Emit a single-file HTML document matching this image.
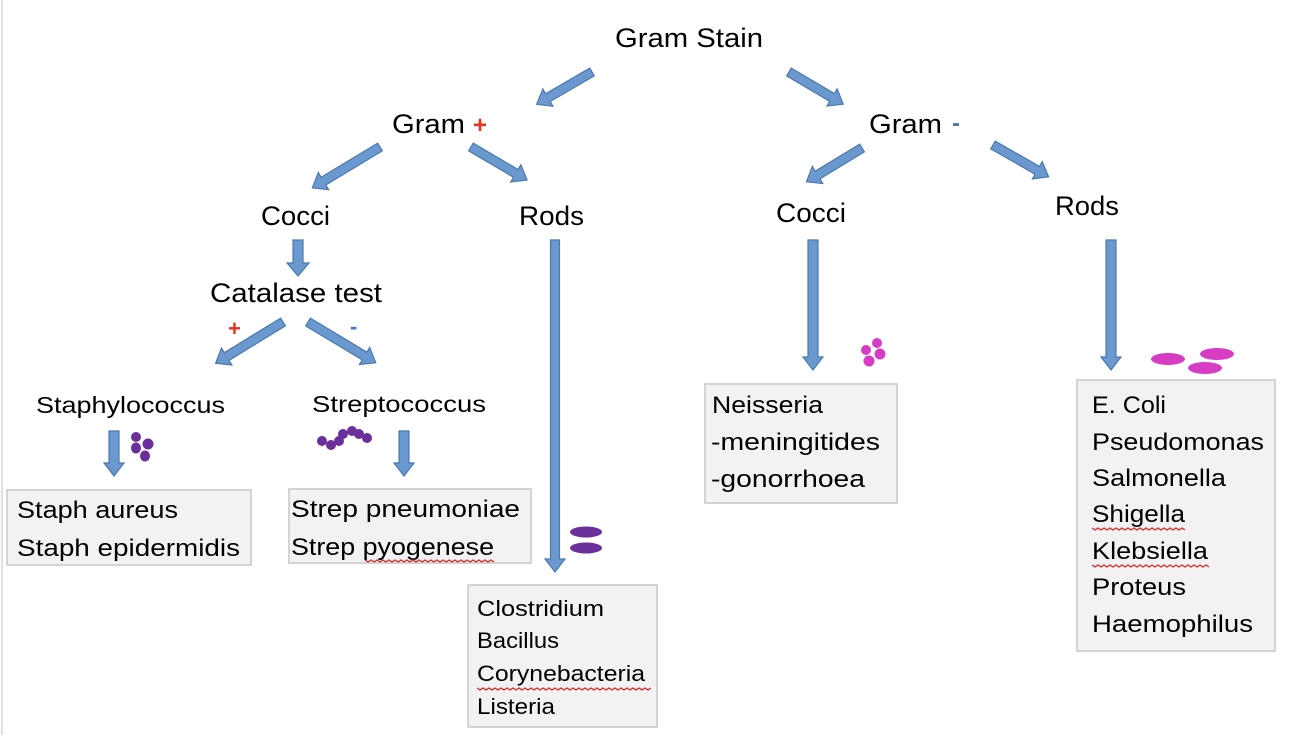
<!DOCTYPE html>
<html><head><meta charset="utf-8"><style>
html,body{margin:0;padding:0;background:#fff;}
svg{display:block;font-family:"Liberation Sans",sans-serif;}
.a{fill:#6a98cf;stroke:#4a78b0;stroke-width:1.2;}
.b{fill:#f2f2f2;stroke:#d4d4d4;stroke-width:2;}
.w{fill:none;stroke:#e02020;stroke-width:1.2;}
</style></head><body>
<svg width="1313" height="735" viewBox="0 0 1313 735" xmlns="http://www.w3.org/2000/svg">
<line x1="2" y1="0" x2="2" y2="735" stroke="#e0e0e0" stroke-width="2"/>

<g class="a">
<polygon transform="translate(592,72) rotate(149.8)" points="0,-4.5 51,-4.5 51,-10 64,0 51,10 51,4.5 0,4.5"/>
<polygon transform="translate(789,72) rotate(30.6)" points="0,-4.5 50,-4.5 50,-10 63,0 50,10 50,4.5 0,4.5"/>
<polygon transform="translate(380,147) rotate(148.9)" points="0,-4.5 66,-4.5 66,-10 79,0 66,10 66,4.5 0,4.5"/>
<polygon transform="translate(471,147) rotate(30.5)" points="0,-4.5 52,-4.5 52,-10 65,0 52,10 52,4.5 0,4.5"/>
<polygon transform="translate(298,240) rotate(90)" points="0,-5 23,-5 23,-11 36,0 23,11 23,5 0,5"/>
<polygon transform="translate(283,322) rotate(148.5)" points="0,-4.5 66,-4.5 66,-10 79,0 66,10 66,4.5 0,4.5"/>
<polygon transform="translate(308,322) rotate(31)" points="0,-4.5 66,-4.5 66,-10 79,0 66,10 66,4.5 0,4.5"/>
<polygon transform="translate(555,240) rotate(90)" points="0,-4.5 319,-4.5 319,-10 332,0 319,10 319,4.5 0,4.5"/>
<polygon transform="translate(862,148) rotate(148.7)" points="0,-4.5 52,-4.5 52,-10 65,0 52,10 52,4.5 0,4.5"/>
<polygon transform="translate(993,145) rotate(29.7)" points="0,-4.5 51,-4.5 51,-10 64,0 51,10 51,4.5 0,4.5"/>
<polygon transform="translate(813,240) rotate(90)" points="0,-5 117,-5 117,-10 130,0 117,10 117,5 0,5"/>
<polygon transform="translate(1111,240) rotate(90)" points="0,-5 117,-5 117,-10 130,0 117,10 117,5 0,5"/>
<polygon transform="translate(114,431) rotate(90)" points="0,-5 32,-5 32,-10 45,0 32,10 32,5 0,5"/>
<polygon transform="translate(404,431) rotate(90)" points="0,-5 32,-5 32,-10 45,0 32,10 32,5 0,5"/>
</g>

<rect class="b" x="7" y="490" width="244" height="75"/>
<rect class="b" x="289" y="489" width="242" height="74"/>
<rect class="b" x="468" y="585" width="189" height="142"/>
<rect class="b" x="705" y="384" width="192" height="119"/>
<rect class="b" x="1077" y="380" width="198" height="271"/>

<g fill="#6a2f9a">
<ellipse cx="136" cy="437" rx="5" ry="5"/><ellipse cx="148" cy="444" rx="5.5" ry="5.5"/>
<ellipse cx="136" cy="448" rx="5" ry="5.5"/><ellipse cx="145" cy="456" rx="5" ry="5.5"/>
<circle cx="322" cy="441" r="5"/><circle cx="331" cy="445" r="5"/><circle cx="339" cy="441" r="5"/>
<circle cx="343" cy="434" r="5"/><circle cx="352" cy="431" r="5"/><circle cx="359" cy="434" r="5"/><circle cx="367" cy="438" r="5"/>
<ellipse cx="586" cy="532" rx="16" ry="5.5"/><ellipse cx="586" cy="548" rx="16" ry="5.5"/>
</g>
<g fill="#d63cc4">
<circle cx="866" cy="350" r="5"/><circle cx="877" cy="343" r="5"/><circle cx="880" cy="354" r="5.5"/><circle cx="869" cy="361" r="5.5"/>
<ellipse cx="1168" cy="359" rx="17" ry="6"/><ellipse cx="1217" cy="354" rx="17" ry="6"/><ellipse cx="1205" cy="368" rx="17" ry="6"/>
</g>

<g fill="#000" font-size="27">
<text x="615" y="47" textLength="148" lengthAdjust="spacingAndGlyphs">Gram Stain</text>
<text x="392" y="133" textLength="73" lengthAdjust="spacingAndGlyphs">Gram</text>
<text x="869" y="133" textLength="73" lengthAdjust="spacingAndGlyphs">Gram</text>
<text x="261" y="225" textLength="69" lengthAdjust="spacingAndGlyphs">Cocci</text>
<text x="519" y="225" textLength="65" lengthAdjust="spacingAndGlyphs">Rods</text>
<text x="776" y="222" textLength="70" lengthAdjust="spacingAndGlyphs">Cocci</text>
<text x="1055" y="215" textLength="64" lengthAdjust="spacingAndGlyphs">Rods</text>
<text x="210" y="302" textLength="172" lengthAdjust="spacingAndGlyphs">Catalase test</text>
</g>
<g font-weight="bold" font-size="24">
<text x="473" y="133" fill="#e8321e">+</text>
<text x="952" y="131" fill="#4a78b8">-</text>
<text x="228" y="336" fill="#e8321e" font-size="22">+</text>
<text x="350" y="334" fill="#4a78b8" font-size="22">-</text>
</g>
<g fill="#000" font-size="23">
<text x="36" y="413" textLength="189" lengthAdjust="spacingAndGlyphs">Staphylococcus</text>
<text x="312" y="412" textLength="174" lengthAdjust="spacingAndGlyphs">Streptococcus</text>
<text x="17" y="518" textLength="161" lengthAdjust="spacingAndGlyphs" font-size="24">Staph aureus</text>
<text x="17" y="556" textLength="223" lengthAdjust="spacingAndGlyphs" font-size="24">Staph epidermidis</text>
<text x="291" y="517" textLength="229" lengthAdjust="spacingAndGlyphs" font-size="24">Strep pneumoniae</text>
<text x="291" y="555" textLength="203" lengthAdjust="spacingAndGlyphs" font-size="24">Strep pyogenese</text>
<text x="477" y="616" textLength="127" lengthAdjust="spacingAndGlyphs" font-size="22">Clostridium</text>
<text x="477" y="648" textLength="82" lengthAdjust="spacingAndGlyphs" font-size="22">Bacillus</text>
<text x="477" y="681" textLength="168" lengthAdjust="spacingAndGlyphs" font-size="22">Corynebacteria</text>
<text x="477" y="714" textLength="78" lengthAdjust="spacingAndGlyphs" font-size="22">Listeria</text>
<text x="712" y="413" textLength="111" lengthAdjust="spacingAndGlyphs" font-size="24">Neisseria</text>
<text x="711" y="450" textLength="169" lengthAdjust="spacingAndGlyphs" font-size="24">-meningitides</text>
<text x="711" y="487" textLength="154" lengthAdjust="spacingAndGlyphs" font-size="24">-gonorrhoea</text>
<text x="1092" y="413" textLength="74" lengthAdjust="spacingAndGlyphs" font-size="24">E. Coli</text>
<text x="1092" y="450" textLength="172" lengthAdjust="spacingAndGlyphs" font-size="24">Pseudomonas</text>
<text x="1092" y="486" textLength="134" lengthAdjust="spacingAndGlyphs" font-size="24">Salmonella</text>
<text x="1092" y="522" textLength="93" lengthAdjust="spacingAndGlyphs" font-size="24">Shigella</text>
<text x="1092" y="559" textLength="116" lengthAdjust="spacingAndGlyphs" font-size="24">Klebsiella</text>
<text x="1092" y="595" textLength="94" lengthAdjust="spacingAndGlyphs" font-size="24">Proteus</text>
<text x="1092" y="632" textLength="161" lengthAdjust="spacingAndGlyphs" font-size="24">Haemophilus</text>
</g>
<path class="w" d="M365,560 l3,2 l3,-2 l3,2 l3,-2 l3,2 l3,-2 l3,2 l3,-2 l3,2 l3,-2 l3,2 l3,-2 l3,2 l3,-2 l3,2 l3,-2 l3,2 l3,-2 l3,2 l3,-2 l3,2 l3,-2 l3,2 l3,-2 l3,2 l3,-2 l3,2 l3,-2 l3,2 l3,-2 l3,2 l3,-2 l3,2 l3,-2 l3,2 l3,-2 l3,2 l3,-2 l3,2 l3,-2 l3,2 l3,-2 l3,2"/>
<path class="w" d="M477,688 l3,2 l3,-2 l3,2 l3,-2 l3,2 l3,-2 l3,2 l3,-2 l3,2 l3,-2 l3,2 l3,-2 l3,2 l3,-2 l3,2 l3,-2 l3,2 l3,-2 l3,2 l3,-2 l3,2 l3,-2 l3,2 l3,-2 l3,2 l3,-2 l3,2 l3,-2 l3,2 l3,-2 l3,2 l3,-2 l3,2 l3,-2 l3,2 l3,-2 l3,2 l3,-2 l3,2 l3,-2 l3,2 l3,-2 l3,2 l3,-2 l3,2 l3,-2 l3,2 l3,-2 l3,2 l3,-2 l3,2 l3,-2 l3,2 l3,-2 l3,2 l3,-2 l3,2 l3,-2"/>
<path class="w" d="M1092,528 l3,2 l3,-2 l3,2 l3,-2 l3,2 l3,-2 l3,2 l3,-2 l3,2 l3,-2 l3,2 l3,-2 l3,2 l3,-2 l3,2 l3,-2 l3,2 l3,-2 l3,2 l3,-2 l3,2 l3,-2 l3,2 l3,-2 l3,2 l3,-2 l3,2 l3,-2 l3,2 l3,-2 l3,2"/>
<path class="w" d="M1092,565 l3,2 l3,-2 l3,2 l3,-2 l3,2 l3,-2 l3,2 l3,-2 l3,2 l3,-2 l3,2 l3,-2 l3,2 l3,-2 l3,2 l3,-2 l3,2 l3,-2 l3,2 l3,-2 l3,2 l3,-2 l3,2 l3,-2 l3,2 l3,-2 l3,2 l3,-2 l3,2 l3,-2 l3,2 l3,-2 l3,2 l3,-2 l3,2 l3,-2 l3,2 l3,-2 l3,2"/>
</svg>
</body></html>
